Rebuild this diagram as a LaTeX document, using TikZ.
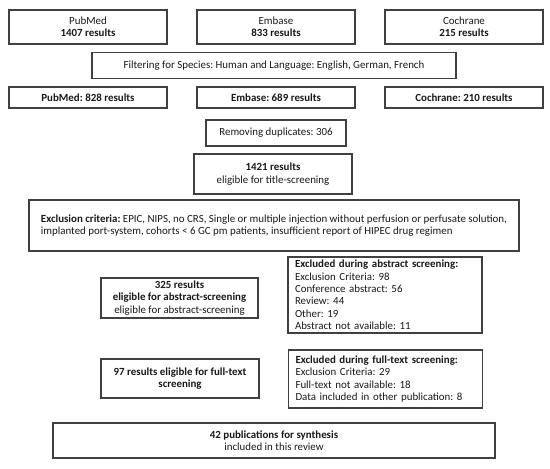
\documentclass[tikz,border=0pt]{standalone}
\usepackage{fontspec}
\setmainfont{Carlito}
\frenchspacing
\tikzset{
    boxn/.style = {rectangle, draw=black!75, line width=1.1pt, align=center, fill=white, inner sep=2pt, text=black!90},
    boxl/.style = {rectangle, draw=black!75, line width=1.1pt, align=left, fill=white, inner xsep=7pt, inner ysep=3pt, text=black!90},
}
\begin{document}
\begin{tikzpicture}[x=1pt, y=-1pt, font=\fontsize{10.9}{12.4}\selectfont]
  \useasboundingbox (0,0) rectangle (550,469);
  % databases
  \node[boxn, minimum width=158pt, minimum height=34pt] (pub) at (88,27) {PubMed\\\textbf{1407 results}};
  \node[boxn, minimum width=158pt, minimum height=34pt] (emb) at (276,27) {Embase\\\textbf{833 results}};
  \node[boxn, minimum width=158pt, minimum height=34pt] (coch) at (464,27) {Cochrane\\\textbf{215 results}};
  % filter
  \node[boxn, minimum width=364pt, minimum height=26pt] (filt) at (274,65.5) {Filtering for Species: Human and Language: English, German, French};
  \node[boxn, minimum width=158pt, minimum height=21pt] (pubf) at (88,97.5) {\textbf{PubMed: 828 results}};
  \node[boxn, minimum width=158pt, minimum height=21pt] (embf) at (276,97.5) {\textbf{Embase: 689 results}};
  \node[boxn, minimum width=158pt, minimum height=21pt] (cochf) at (464,97.5) {\textbf{Cochrane: 210 results}};
  % screening
  \node[boxn, minimum width=140pt, minimum height=26pt] (dup) at (276,133) {Removing duplicates: 306};
  \node[boxn, minimum width=158pt, minimum height=40pt] (title) at (273,174) {\textbf{1421 results}\\eligible for title-screening};
  \node[boxl, minimum width=490pt, minimum height=51pt] (excl) at (274,225.5)
    {\textbf{Exclusion criteria:} EPIC, NIPS, no CRS, Single or multiple injection without perfusion or perfusate solution,\\
     implanted port-system, cohorts < 6 GC pm patients, insufficient report of HIPEC drug regimen};
  \node[boxn, minimum width=157pt, minimum height=40pt] (abs) at (179.5,298)
    {\textbf{325 results}\\\textbf{eligible for abstract-screening}\\eligible for abstract-screening};
  \node[boxl, text width=180pt, minimum height=76pt] (exabs) at (385,295)
    {\textbf{Excluded during abstract screening:}\\Exclusion Criteria: 98\\Conference abstract: 56\\Review: 44\\Other: 19\\Abstract not available: 11};
  \node[boxn, minimum width=158pt, minimum height=39pt] (full) at (180,378.5)
    {\textbf{97 results eligible for full-text}\\\textbf{screening}};
  \node[boxl, text width=180pt, minimum height=58pt] (exfull) at (385.5,379)
    {\textbf{Excluded during full-text screening:}\\Exclusion Criteria: 29\\Full-text not available: 18\\Data included in other publication: 8};
  \node[boxn, minimum width=442pt, minimum height=35pt] (synth) at (274,440.5)
    {\textbf{42 publications for synthesis}\\included in this review};
\end{tikzpicture}
\end{document}
